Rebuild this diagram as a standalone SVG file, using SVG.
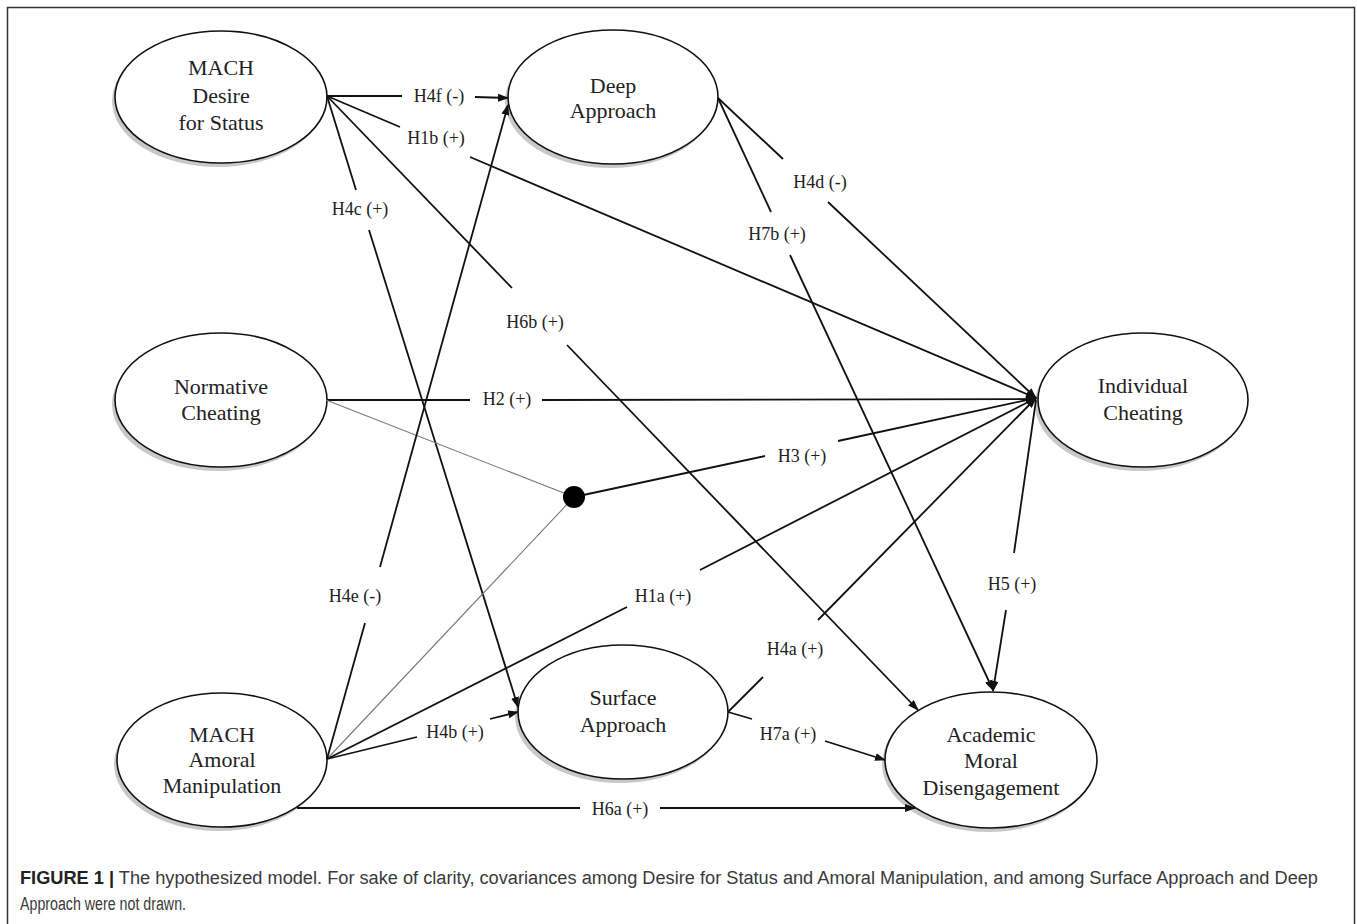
<svg xmlns="http://www.w3.org/2000/svg" width="1357" height="924" viewBox="0 0 1357 924">
<style>
.node-shadow{fill:#c8c8c8}
.node-body{fill:#fff;stroke:#111;stroke-width:1.6}
.node-text{font-family:"Liberation Serif","Times New Roman",serif;font-size:22px;fill:#222;text-anchor:middle}
.lbl{font-family:"Liberation Serif","Times New Roman",serif;font-size:18px;fill:#222;text-anchor:middle}
.edge{stroke:#111;stroke-width:1.8;fill:none}
.arrow{stroke:#111;stroke-width:1.8;fill:none;marker-end:url(#ah)}
.thin{stroke:#777;stroke-width:1.1;fill:none}
.cap{font-family:"Liberation Sans",Arial,sans-serif;font-size:18px;fill:#3a3a3a}
</style>
<defs>
<marker id="ah" markerWidth="11" markerHeight="8" refX="10" refY="4" orient="auto" markerUnits="userSpaceOnUse">
<path d="M0,0 L11,4 L0,8 z" fill="#111"/>
</marker>
</defs>
<rect x="7.5" y="7.5" width="1347" height="940" fill="none" stroke="#333" stroke-width="1.5"/>

<g id="desire-for-status">
<ellipse class="node-shadow" cx="218" cy="101" rx="106" ry="66"/>
<ellipse class="node-body" cx="221" cy="97" rx="106" ry="66"/>
<text class="node-text" x="221" y="75">MACH</text>
<text class="node-text" x="221" y="103">Desire</text>
<text class="node-text" x="221" y="130">for Status</text>
</g>

<g id="deep-approach">
<ellipse class="node-shadow" cx="610" cy="101" rx="105" ry="67"/>
<ellipse class="node-body" cx="613" cy="97" rx="105" ry="67"/>
<text class="node-text" x="613" y="93">Deep</text>
<text class="node-text" x="613" y="118">Approach</text>
</g>

<g id="individual-cheating">
<ellipse class="node-shadow" cx="1140" cy="404" rx="105" ry="67"/>
<ellipse class="node-body" cx="1143" cy="400" rx="105" ry="67"/>
<text class="node-text" x="1143" y="393">Individual</text>
<text class="node-text" x="1143" y="420">Cheating</text>
</g>

<g id="normative-cheating">
<ellipse class="node-shadow" cx="218" cy="404" rx="106" ry="67"/>
<ellipse class="node-body" cx="221" cy="400" rx="106" ry="67"/>
<text class="node-text" x="221" y="394">Normative</text>
<text class="node-text" x="221" y="420">Cheating</text>
</g>

<g id="amoral-manipulation">
<ellipse class="node-shadow" cx="219" cy="764" rx="105" ry="67"/>
<ellipse class="node-body" cx="222" cy="760" rx="105" ry="67"/>
<text class="node-text" x="222" y="742">MACH</text>
<text class="node-text" x="222" y="767">Amoral</text>
<text class="node-text" x="222" y="793">Manipulation</text>
</g>

<g id="surface-approach">
<ellipse class="node-shadow" cx="620" cy="716" rx="105" ry="67"/>
<ellipse class="node-body" cx="623" cy="712" rx="105" ry="67"/>
<text class="node-text" x="623" y="705">Surface</text>
<text class="node-text" x="623" y="732">Approach</text>
</g>

<g id="academic-moral-disengagement">
<ellipse class="node-shadow" cx="988" cy="764" rx="106" ry="68"/>
<ellipse class="node-body" cx="991" cy="760" rx="106" ry="68"/>
<text class="node-text" x="991" y="742">Academic</text>
<text class="node-text" x="991" y="768">Moral</text>
<text class="node-text" x="991" y="795">Disengagement</text>
</g>

<g id="connectors">
<!-- H4f -->
<line class="edge" x1="327" y1="96" x2="402" y2="96"/>
<line class="arrow" x1="475" y1="97" x2="508" y2="98"/>
<!-- H1b -->
<line class="edge" x1="327" y1="96" x2="400" y2="127"/>
<line class="arrow" x1="470" y1="157" x2="1036" y2="398"/>
<!-- H4c -->
<line class="edge" x1="327" y1="96" x2="356" y2="190"/>
<line class="arrow" x1="369" y1="230" x2="518" y2="707"/>
<!-- H6b -->
<line class="edge" x1="327" y1="96" x2="512" y2="288"/>
<line class="arrow" x1="567" y1="345" x2="918" y2="710"/>
<!-- H4d -->
<line class="edge" x1="718" y1="98" x2="783" y2="159"/>
<line class="arrow" x1="828" y1="202" x2="1036" y2="398"/>
<!-- H7b -->
<line class="edge" x1="718" y1="98" x2="771" y2="212"/>
<line class="arrow" x1="790" y1="255" x2="993" y2="690"/>
<!-- H2 -->
<line class="edge" x1="326" y1="400" x2="470" y2="400"/>
<line class="arrow" x1="542" y1="400" x2="1036" y2="399"/>
<!-- moderator lines -->
<line class="thin" x1="326" y1="400" x2="574" y2="497"/>
<line class="thin" x1="327" y1="759" x2="574" y2="497"/>
<!-- H3 -->
<line class="edge" x1="574" y1="497" x2="765" y2="456"/>
<line class="arrow" x1="838" y1="441" x2="1036" y2="398"/>
<!-- H4e -->
<line class="edge" x1="327" y1="759" x2="365" y2="623"/>
<line class="arrow" x1="380" y1="567" x2="508" y2="105"/>
<!-- H1a -->
<line class="edge" x1="327" y1="759" x2="627" y2="607"/>
<line class="arrow" x1="700" y1="570" x2="1036" y2="398"/>
<!-- H4b -->
<line class="edge" x1="327" y1="759" x2="417" y2="737"/>
<line class="arrow" x1="490" y1="719" x2="518" y2="712"/>
<!-- H6a -->
<line class="edge" x1="297" y1="808" x2="580" y2="808"/>
<line class="arrow" x1="660" y1="808" x2="915" y2="808"/>
<!-- H4a -->
<line class="edge" x1="728" y1="712" x2="763" y2="677"/>
<line class="arrow" x1="818" y1="620" x2="1036" y2="398"/>
<!-- H7a -->
<line class="edge" x1="728" y1="712" x2="752" y2="719"/>
<line class="arrow" x1="825" y1="741" x2="885" y2="760"/>
<!-- H5 -->
<line class="edge" x1="1036" y1="400" x2="1014" y2="553"/>
<line class="arrow" x1="1006" y1="610" x2="993" y2="691"/>
<circle cx="574" cy="497" r="11" fill="#000"/>
<text class="lbl" x="439" y="102">H4f (-)</text>
<text class="lbl" x="436" y="144">H1b (+)</text>
<text class="lbl" x="360" y="215">H4c (+)</text>
<text class="lbl" x="535" y="328">H6b (+)</text>
<text class="lbl" x="820" y="188">H4d (-)</text>
<text class="lbl" x="777" y="240">H7b (+)</text>
<text class="lbl" x="507" y="405">H2 (+)</text>
<text class="lbl" x="802" y="462">H3 (+)</text>
<text class="lbl" x="355" y="602">H4e (-)</text>
<text class="lbl" x="663" y="602">H1a (+)</text>
<text class="lbl" x="455" y="738">H4b (+)</text>
<text class="lbl" x="620" y="815">H6a (+)</text>
<text class="lbl" x="795" y="655">H4a (+)</text>
<text class="lbl" x="788" y="740">H7a (+)</text>
<text class="lbl" x="1012" y="590">H5 (+)</text>
</g>

<g id="caption">
<text class="cap" x="20" y="884" textLength="1298" lengthAdjust="spacingAndGlyphs"><tspan font-weight="bold" fill="#222">FIGURE 1 |</tspan> The hypothesized model. For sake of clarity, covariances among Desire for Status and Amoral Manipulation, and among Surface Approach and Deep</text>
<text class="cap" x="20" y="910" textLength="166" lengthAdjust="spacingAndGlyphs">Approach were not drawn.</text>
</g>
</svg>
